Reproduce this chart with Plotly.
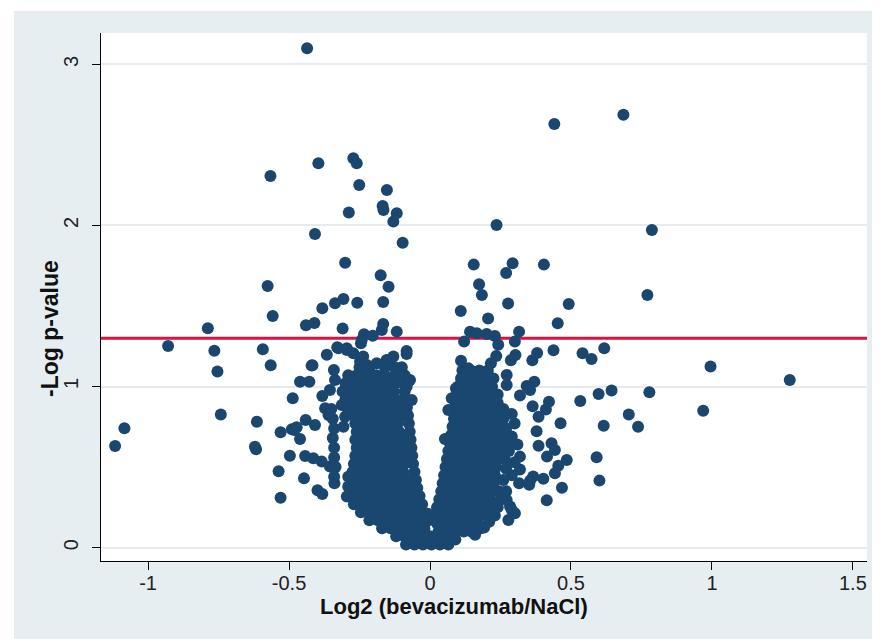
import plotly.graph_objects as go

# ---------------- data (log2 fold change, -log10 p) ----------------
outliers_left = [
    (-0.436, 3.10), (-0.396, 2.386), (-0.566, 2.307), (-0.272, 2.417), (-0.260, 2.386),
    (-0.251, 2.251), (-0.153, 2.220), (-0.168, 2.121), (-0.165, 2.096), (-0.118, 2.076),
    (-0.130, 2.024), (-0.288, 2.080), (-0.408, 1.947), (-0.097, 1.893), (-0.301, 1.769),
    (-0.175, 1.691), (-0.147, 1.620), (-0.576, 1.624), (-0.337, 1.517), (-0.307, 1.544),
    (-0.258, 1.521), (-0.382, 1.486), (-0.166, 1.525), (-0.558, 1.438), (-0.440, 1.381),
    (-0.410, 1.395), (-0.310, 1.360), (-0.166, 1.389), (-0.171, 1.351), (-0.118, 1.341),
    (-0.234, 1.325), (-0.203, 1.316), (-0.245, 1.269), (-0.593, 1.231), (-0.329, 1.244),
    (-0.295, 1.238), (-0.083, 1.221), (-1.117, 0.631), (-1.084, 0.741), (-0.929, 1.252),
    (-0.788, 1.362), (-0.765, 1.223), (-0.754, 1.093), (-0.742, 0.826), (-0.614, 0.782),
    (-0.621, 0.627), (-0.617, 0.611), (-0.565, 1.132), (-0.530, 0.717), (-0.487, 0.927),
    (-0.497, 0.570), (-0.537, 0.474), (-0.530, 0.310), (-0.481, 0.731), (-0.461, 0.675),
    (-0.461, 1.030), (-0.428, 1.030), (-0.417, 1.132), (-0.441, 0.793), (-0.408, 0.762),
    (-0.447, 0.430), (-0.443, 0.569), (-0.414, 0.555), (-0.384, 0.534), (-0.355, 0.503),
    (-0.399, 0.356), (-0.382, 0.333), (-0.339, 0.400), (-0.366, 1.198), (-0.382, 0.942),
    (-0.372, 0.865), (-0.360, 0.824), (-0.355, 0.979), (-0.341, 1.103), (-0.337, 1.040),
    (-0.420, 1.130), (-0.473, 0.747), (-0.490, 0.735), (-0.325, 1.238), (-0.295, 1.227),
    (-0.272, 1.207), (-0.237, 1.186), (-0.248, 1.155), (-0.224, 1.134), (-0.189, 1.145),
    (-0.154, 1.165), (-0.130, 1.186), (-0.083, 1.202), (-0.284, 1.061), (-0.272, 1.020),
    (-0.071, 1.041), (-0.083, 0.999), (-0.077, 1.030), (-0.065, 0.917), (-0.242, 1.289),
    (-0.350, 0.860), (-0.345, 0.800), (-0.340, 0.740), (-0.345, 0.680), (-0.340, 0.620),
    (-0.340, 0.560), (-0.335, 0.500), (-0.340, 0.440), (-0.313, 0.886), (-0.301, 0.813),
    (-0.307, 0.751), (-0.295, 0.317), (-0.290, 0.380), (-0.290, 0.440),
]

outliers_right = [
    (0.441, 2.630), (0.686, 2.688), (0.236, 2.003), (0.787, 1.972), (0.155, 1.757),
    (0.293, 1.765), (0.270, 1.705), (0.404, 1.757), (0.174, 1.635), (0.184, 1.569),
    (0.771, 1.569), (0.277, 1.515), (0.492, 1.513), (0.109, 1.469), (0.206, 1.422),
    (0.453, 1.393), (0.142, 1.341), (0.166, 1.331), (0.201, 1.327), (0.230, 1.314),
    (0.242, 1.259), (0.121, 1.279), (0.316, 1.341), (0.301, 1.279), (0.438, 1.225),
    (0.541, 1.207), (0.573, 1.171), (0.618, 1.238), (0.380, 1.208), (0.303, 1.196),
    (0.235, 1.190), (0.110, 1.160), (0.363, 1.163), (0.287, 1.163), (0.216, 1.145),
    (0.136, 1.114), (0.995, 1.124), (1.276, 1.041), (0.533, 0.911), (0.598, 0.954),
    (0.644, 0.975), (0.778, 0.965), (0.969, 0.850), (0.705, 0.826), (0.738, 0.751),
    (0.616, 0.757), (0.463, 0.772), (0.591, 0.561), (0.601, 0.416), (0.468, 0.372),
    (0.485, 0.544), (0.455, 0.508), (0.443, 0.462), (0.414, 0.294), (0.415, 0.565),
    (0.385, 0.633), (0.431, 0.648), (0.443, 0.606), (0.378, 0.723), (0.319, 0.565),
    (0.319, 0.485), (0.316, 0.400), (0.352, 0.390), (0.366, 0.441), (0.402, 0.428),
    (0.370, 1.030), (0.343, 1.004), (0.319, 0.945), (0.355, 0.979), (0.422, 0.906),
    (0.411, 0.857), (0.364, 0.878), (0.385, 0.813), (0.272, 1.072), (0.272, 1.010),
    (0.284, 0.255), (0.301, 0.214), (0.278, 0.172), (0.192, 0.125), (0.148, 0.099),
    (0.092, 0.989), (0.077, 0.927), (0.053, 0.675), (0.065, 0.855), (0.272, 0.296),
    (0.290, 0.234), (0.355, 0.416), (0.260, 0.860), (0.290, 0.830), (0.300, 0.770),
    (0.270, 0.740), (0.290, 0.690), (0.310, 0.640), (0.280, 0.600), (0.300, 0.530),
    (0.270, 0.490), (0.290, 0.450), (0.260, 0.420), (0.270, 0.350), (0.250, 0.300),
    (0.240, 0.250), (0.230, 0.200), (0.210, 0.160), (0.180, 0.120), (0.160, 0.080),
]

left_core = [
    (-0.25, 1.12), (-0.215, 1.12), (-0.16, 1.12), (-0.125, 1.12), (-0.10, 1.12),
    (-0.29, 1.07), (-0.26, 1.07), (-0.225, 1.07), (-0.19, 1.07), (-0.16, 1.07), (-0.125, 1.07), (-0.09, 1.07),
    (-0.30, 1.02), (-0.27, 1.02), (-0.24, 1.02), (-0.21, 1.02), (-0.18, 1.02), (-0.15, 1.02), (-0.12, 1.02), (-0.088, 1.02),
    (-0.31, 0.97), (-0.28, 0.97), (-0.25, 0.97), (-0.22, 0.97), (-0.19, 0.97), (-0.16, 0.97), (-0.13, 0.97), (-0.09, 0.97),
    (-0.30, 0.92), (-0.27, 0.92), (-0.24, 0.92), (-0.21, 0.92), (-0.18, 0.92), (-0.15, 0.92), (-0.12, 0.92), (-0.085, 0.92),
    (-0.295, 0.87), (-0.265, 0.87), (-0.235, 0.87), (-0.205, 0.87), (-0.175, 0.87), (-0.145, 0.87), (-0.115, 0.87), (-0.082, 0.87),
    (-0.27, 0.82), (-0.24, 0.82), (-0.21, 0.82), (-0.18, 0.82), (-0.15, 0.82), (-0.12, 0.82), (-0.095, 0.82), (-0.078, 0.82),
    (-0.265, 0.77), (-0.235, 0.77), (-0.205, 0.77), (-0.175, 0.77), (-0.145, 0.77), (-0.115, 0.77), (-0.075, 0.77),
    (-0.26, 0.72), (-0.23, 0.72), (-0.20, 0.72), (-0.17, 0.72), (-0.14, 0.72), (-0.11, 0.72), (-0.072, 0.72),
    (-0.265, 0.67), (-0.235, 0.67), (-0.205, 0.67), (-0.175, 0.67), (-0.145, 0.67), (-0.115, 0.67), (-0.09, 0.67), (-0.069, 0.67),
    (-0.26, 0.62), (-0.23, 0.62), (-0.20, 0.62), (-0.17, 0.62), (-0.14, 0.62), (-0.11, 0.62), (-0.085, 0.62), (-0.066, 0.62),
    (-0.265, 0.57), (-0.235, 0.57), (-0.205, 0.57), (-0.175, 0.57), (-0.145, 0.57), (-0.115, 0.57), (-0.09, 0.57), (-0.063, 0.57),
    (-0.27, 0.52), (-0.24, 0.52), (-0.21, 0.52), (-0.18, 0.52), (-0.15, 0.52), (-0.12, 0.52), (-0.09, 0.52), (-0.06, 0.52),
    (-0.275, 0.47), (-0.245, 0.47), (-0.215, 0.47), (-0.185, 0.47), (-0.155, 0.47), (-0.125, 0.47), (-0.095, 0.47), (-0.055, 0.47),
    (-0.28, 0.42), (-0.25, 0.42), (-0.22, 0.42), (-0.19, 0.42), (-0.16, 0.42), (-0.13, 0.42), (-0.10, 0.42), (-0.075, 0.42), (-0.05, 0.42),
    (-0.285, 0.37), (-0.255, 0.37), (-0.225, 0.37), (-0.195, 0.37), (-0.165, 0.37), (-0.135, 0.37), (-0.105, 0.37), (-0.075, 0.37), (-0.045, 0.37),
    (-0.285, 0.32), (-0.255, 0.32), (-0.225, 0.32), (-0.195, 0.32), (-0.165, 0.32), (-0.135, 0.32), (-0.105, 0.32), (-0.07, 0.32), (-0.037, 0.32),
    (-0.27, 0.27), (-0.24, 0.27), (-0.21, 0.27), (-0.18, 0.27), (-0.15, 0.27), (-0.12, 0.27), (-0.09, 0.27), (-0.06, 0.27), (-0.028, 0.27),
    (-0.245, 0.22), (-0.215, 0.22), (-0.185, 0.22), (-0.155, 0.22), (-0.125, 0.22), (-0.095, 0.22), (-0.065, 0.22), (-0.035, 0.22), (-0.008, 0.21),
    (-0.215, 0.17), (-0.185, 0.17), (-0.155, 0.17), (-0.125, 0.17), (-0.095, 0.17), (-0.065, 0.17), (-0.035, 0.17), (-0.005, 0.17),
    (-0.17, 0.12), (-0.14, 0.12), (-0.11, 0.12), (-0.08, 0.12), (-0.05, 0.12), (-0.02, 0.12),
    (-0.12, 0.07), (-0.09, 0.07), (-0.06, 0.07), (-0.03, 0.07), (0.0, 0.07),
    (-0.085, 0.02), (-0.055, 0.02), (-0.025, 0.02), (0.005, 0.02), (0.035, 0.02), (0.065, 0.02),
]

right_core = [
    (0.115, 1.10), (0.145, 1.10), (0.175, 1.10), (0.205, 1.10),
    (0.11, 1.05), (0.14, 1.05), (0.17, 1.05), (0.20, 1.05), (0.225, 1.05),
    (0.10, 1.00), (0.13, 1.00), (0.16, 1.00), (0.19, 1.00), (0.22, 1.00),
    (0.095, 0.95), (0.125, 0.95), (0.155, 0.95), (0.185, 0.95), (0.215, 0.95), (0.24, 0.95),
    (0.09, 0.90), (0.12, 0.90), (0.15, 0.90), (0.18, 0.90), (0.21, 0.90), (0.24, 0.90),
    (0.088, 0.85), (0.118, 0.85), (0.148, 0.85), (0.178, 0.85), (0.208, 0.85), (0.238, 0.85),
    (0.085, 0.80), (0.115, 0.80), (0.145, 0.80), (0.175, 0.80), (0.205, 0.80), (0.235, 0.80), (0.26, 0.80),
    (0.08, 0.75), (0.11, 0.75), (0.14, 0.75), (0.17, 0.75), (0.20, 0.75), (0.23, 0.75), (0.255, 0.75),
    (0.075, 0.70), (0.105, 0.70), (0.135, 0.70), (0.165, 0.70), (0.195, 0.70), (0.225, 0.70), (0.255, 0.70),
    (0.07, 0.65), (0.10, 0.65), (0.13, 0.65), (0.16, 0.65), (0.19, 0.65), (0.22, 0.65), (0.25, 0.65), (0.275, 0.65),
    (0.065, 0.60), (0.095, 0.60), (0.125, 0.60), (0.155, 0.60), (0.185, 0.60), (0.215, 0.60), (0.245, 0.60),
    (0.06, 0.55), (0.09, 0.55), (0.12, 0.55), (0.15, 0.55), (0.18, 0.55), (0.21, 0.55), (0.24, 0.55), (0.265, 0.55),
    (0.055, 0.50), (0.085, 0.50), (0.115, 0.50), (0.145, 0.50), (0.175, 0.50), (0.205, 0.50), (0.235, 0.50),
    (0.05, 0.45), (0.08, 0.45), (0.11, 0.45), (0.14, 0.45), (0.17, 0.45), (0.20, 0.45), (0.23, 0.45),
    (0.045, 0.40), (0.075, 0.40), (0.105, 0.40), (0.135, 0.40), (0.165, 0.40), (0.195, 0.40), (0.225, 0.40),
    (0.04, 0.35), (0.07, 0.35), (0.10, 0.35), (0.13, 0.35), (0.16, 0.35), (0.19, 0.35), (0.22, 0.35), (0.245, 0.35),
    (0.033, 0.30), (0.063, 0.30), (0.093, 0.30), (0.123, 0.30), (0.153, 0.30), (0.183, 0.30), (0.213, 0.30),
    (0.025, 0.25), (0.055, 0.25), (0.085, 0.25), (0.115, 0.25), (0.145, 0.25), (0.175, 0.25), (0.205, 0.25),
    (0.025, 0.20), (0.055, 0.20), (0.085, 0.20), (0.115, 0.20), (0.145, 0.20), (0.175, 0.20), (0.20, 0.20),
    (0.025, 0.15), (0.055, 0.15), (0.085, 0.15), (0.115, 0.15), (0.145, 0.15), (0.17, 0.15),
    (0.03, 0.10), (0.06, 0.10), (0.09, 0.10), (0.12, 0.10),
    (0.035, 0.05), (0.065, 0.05), (0.09, 0.05),
]

x_ticks = [-1, -0.5, 0, 0.5, 1, 1.5]
x_tick_labels = ["-1", "-0.5", "0", "0.5", "1", "1.5"]
y_ticks = [0, 1, 2, 3]
y_tick_labels = ["0", "1", "2", "3"]
threshold = 1.3
x_title = "Log2 (bevacizumab/NaCl)"
y_title = "-Log p-value"

# ---------------- figure ----------------
all_pts = left_core + right_core + outliers_left + outliers_right
xs = [p[0] for p in all_pts]
ys = [p[1] for p in all_pts]

NAVY = "#1a476f"
FONT = "Liberation Sans, Arial, sans-serif"

fig = go.Figure()
fig.add_trace(go.Scatter(
    x=xs, y=ys, mode="markers",
    marker=dict(color=NAVY, size=12, line=dict(width=0)),
    hoverinfo="x+y", showlegend=False, cliponaxis=True,
))

fig.add_shape(type="line", xref="paper", yref="y", x0=0, x1=1, y0=threshold, y1=threshold,
              line=dict(color="#dc1240", width=3), layer="below")

# white outer strips (top & left) outside the gray graph region
fig.add_shape(type="rect", xref="paper", yref="paper", x0=-0.2, x1=-0.1136, y0=-0.3, y1=1.2,
              fillcolor="white", line=dict(width=0), layer="below")
fig.add_shape(type="rect", xref="paper", yref="paper", x0=-0.2, x1=1.1, y0=1.0417, y1=1.2,
              fillcolor="white", line=dict(width=0), layer="below")

fig.add_annotation(text=x_title, xref="paper", yref="paper", x=0.4602, y=-0.0871,
                   xanchor="center", yanchor="middle", showarrow=False,
                   font=dict(family=FONT, size=22, color="#111111", weight="bold"))
fig.add_annotation(text=y_title, xref="paper", yref="paper", x=-0.0666, y=0.4413,
                   xanchor="center", yanchor="middle", textangle=-90, showarrow=False,
                   font=dict(family=FONT, size=23, color="#111111", weight="bold"))

fig.update_xaxes(
    range=[-1.167, 1.55], tickvals=x_ticks, ticktext=x_tick_labels,
    showgrid=False, zeroline=False, showline=True, linecolor="black", linewidth=1,
    ticks="outside", ticklen=8, tickcolor="black", tickwidth=1,
    tickfont=dict(family=FONT, size=20, color="#222222"), ticklabelstandoff=-4,
)
fig.update_yaxes(
    range=[-0.083, 3.195], tickvals=y_ticks, ticktext=y_tick_labels, tickangle=-90,
    showgrid=True, gridcolor="#e6ebee", gridwidth=1.5, zeroline=False,
    showline=True, linecolor="black", linewidth=1,
    ticks="outside", ticklen=8, tickcolor="black", tickwidth=1,
    tickfont=dict(family=FONT, size=20, color="#222222"), ticklabelstandoff=6,
)

# page body has an 8px default margin: figure sized so it ends at the window edge
fig.update_layout(
    width=872, height=631, autosize=False,
    margin=dict(l=93, r=13, t=25, b=78),
    paper_bgcolor="#e7eef1", plot_bgcolor="white",
    showlegend=False,
)

fig.write_html("out.html")
